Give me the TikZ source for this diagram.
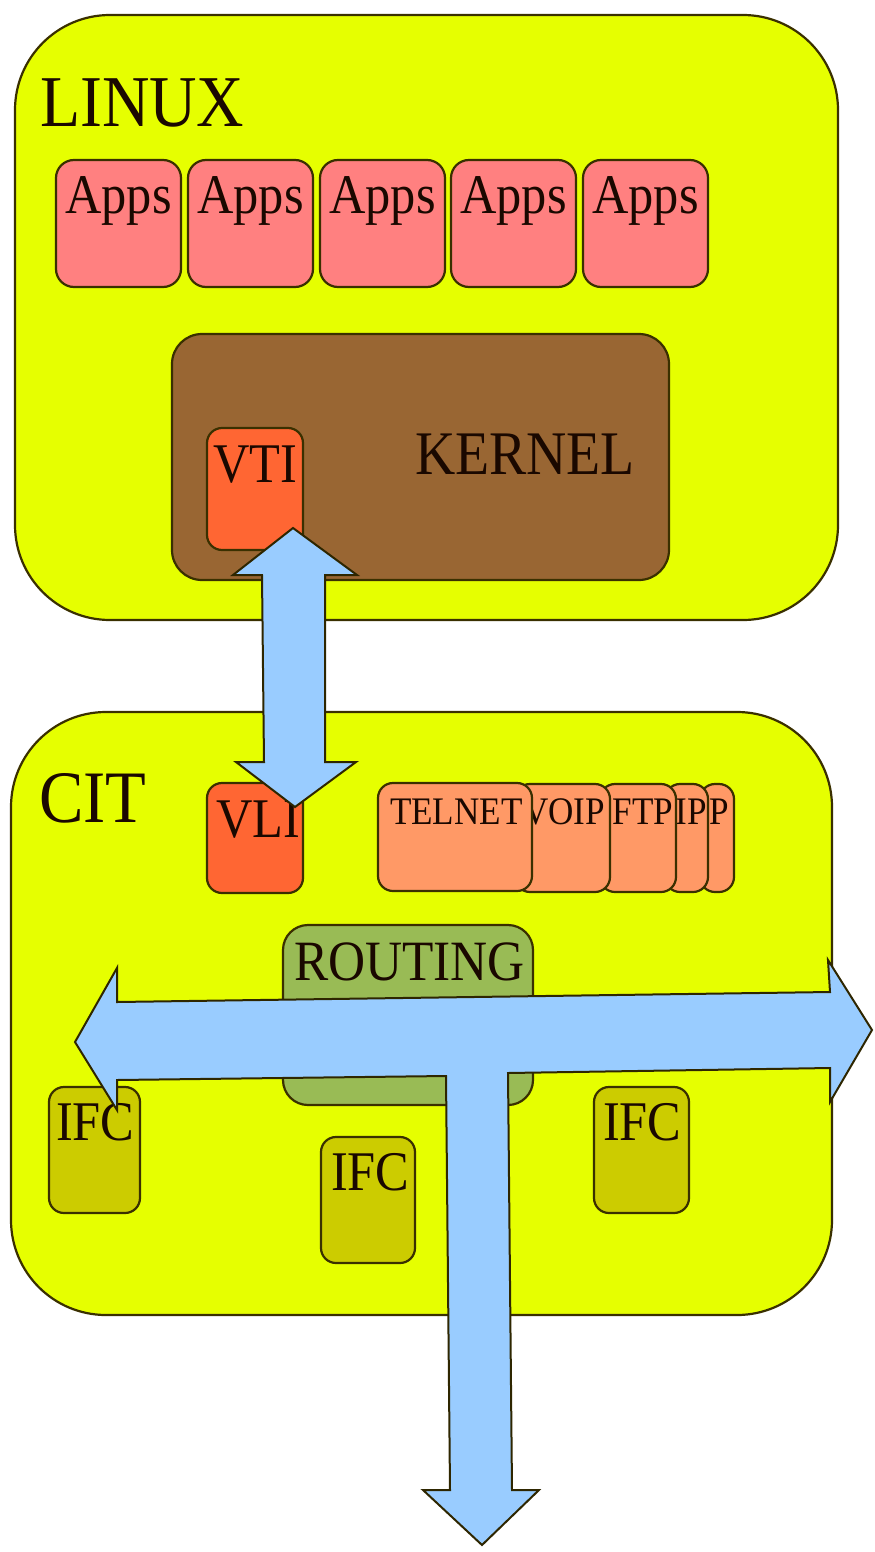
\documentclass[tikz,border=0pt]{standalone}
\usepackage{fontspec}
\setmainfont{Liberation Serif}[FakeStretch=0.9]
\usetikzlibrary{calc}
\definecolor{limey}{HTML}{E6FF00}
\definecolor{appcol}{HTML}{FF8080}
\definecolor{kerncol}{HTML}{996633}
\definecolor{vticol}{HTML}{FF6633}
\definecolor{protcol}{HTML}{FF9966}
\definecolor{routcol}{HTML}{99BB55}
\definecolor{ifccol}{HTML}{CCCC00}
\definecolor{arrcol}{HTML}{99CCFF}
\definecolor{edgecol}{HTML}{3A3000}
\definecolor{txtcol}{HTML}{1A0800}
\tikzset{
  shapebox/.style={draw=edgecol, line width=2.2pt, inner sep=0pt, outer sep=0pt, anchor=north west},
  bigbox/.style={shapebox, fill=limey, rounded corners=95pt},
  appbox/.style={shapebox, fill=appcol, rounded corners=18pt, minimum width=125pt, minimum height=127pt},
  vbox/.style={shapebox, fill=vticol, rounded corners=15pt, minimum width=96pt},
  protbox/.style={shapebox, fill=protcol, rounded corners=15pt, minimum height=108pt},
  ifcbox/.style={shapebox, fill=ifccol, rounded corners=15pt, minimum width=91pt, minimum height=126pt},
  lbl/.style={inner sep=0pt, outer sep=0pt, text=txtcol},
  blockarrow/.style={draw=edgecol!80!black, line width=2pt, fill=arrcol, line join=miter},
}
\begin{document}
\begin{tikzpicture}[x=1pt,y=-1pt]
\useasboundingbox (0,0) rectangle (875,1552);
% LINUX
\node[bigbox, minimum width=823pt, minimum height=605pt] (linux) at (15,15) {};
\node[lbl, anchor=base west, font=\fontsize{73}{78}\selectfont] (linuxlbl) at (40,127) {LINUX};
\foreach \i/\x in {1/56,2/188,3/320,4/451,5/583}{
  \node[appbox] (app\i) at (\x,160) {};
  \node[lbl, anchor=base, font=\fontsize{56}{60}\selectfont] (applbl\i) at ($(\x,213)+(62.5,0)$) {Apps};
}
\node[shapebox, fill=kerncol, rounded corners=30pt, minimum width=497pt, minimum height=246pt] (kernel) at (172,334) {};
\node[lbl, anchor=base west, font=\fontsize{62}{66}\selectfont] (kernlbl) at (415,474) {KERNEL};
\node[vbox, minimum height=122pt] (vti) at (207,428) {};
\node[lbl, anchor=base west, font=\fontsize{56}{60}\selectfont] (vtilbl) at (213,482) {VTI};
% CIT
\node[bigbox, minimum width=821pt, minimum height=603pt] (cit) at (11,712) {};
\node[lbl, anchor=base west, font=\fontsize{74}{78}\selectfont] (citlbl) at (39,822) {CIT};
\node[vbox, minimum height=110pt] (vli) at (207,783) {};
\node[lbl, anchor=base west, font=\fontsize{56}{60}\selectfont] (vlilbl) at (216,837) {VLI};
% protocol stack (drawn back to front)
\node[protbox, minimum width=34pt] (p5) at (700,784) {};
\node[lbl, anchor=base east, font=\fontsize{39}{42}\selectfont] (p5lbl) at (729,824) {P};
\node[protbox, minimum width=43pt] (p4) at (665,784) {};
\node[lbl, anchor=base east, font=\fontsize{39}{42}\selectfont] (p4lbl) at (707,824) {IP};
\node[protbox, minimum width=76pt] (p3) at (600,784) {};
\node[lbl, anchor=base east, font=\fontsize{39}{42}\selectfont] (p3lbl) at (673,824) {FTP};
\node[protbox, minimum width=95pt] (p2) at (515,784) {};
\node[lbl, anchor=base east, font=\fontsize{39}{42}\selectfont] (p2lbl) at (605,824) {VOIP};
\node[protbox, minimum width=154pt] (p1) at (378,783) {};
\node[lbl, anchor=base west, font=\fontsize{39}{42}\selectfont] (p1lbl) at (390,824) {TELNET};
% routing
\node[shapebox, fill=routcol, rounded corners=25pt, minimum width=250pt, minimum height=180pt] (routing) at (283,925) {};
\node[lbl, anchor=base west, font=\fontsize{57}{60}\selectfont] (routlbl) at (294,980) {ROUTING};
% IFCs
\node[ifcbox] (ifc1) at (49,1087) {};
\node[lbl, anchor=base west, font=\fontsize{56}{60}\selectfont] (ifc1lbl) at (56,1140) {IFC};
\node[ifcbox, minimum width=94pt] (ifc2) at (321,1137) {};
\node[lbl, anchor=base west, font=\fontsize{56}{60}\selectfont] (ifc2lbl) at (331,1190) {IFC};
\node[ifcbox, minimum width=95pt] (ifc3) at (594,1087) {};
\node[lbl, anchor=base west, font=\fontsize{56}{60}\selectfont] (ifc3lbl) at (603,1140) {IFC};
% vertical double arrow between VTI and VLI
\draw[blockarrow] (293,528) -- (357,575) -- (325,575) -- (325,762) -- (356,762) -- (295,807)
  -- (236,762) -- (264,762) -- (262,575) -- (233,575) -- cycle;
% T-shaped three-headed arrow
\draw[blockarrow] (117,968) -- (75,1042) -- (117,1110) -- (117,1080) -- (446,1076)
  -- (450,1490) -- (423,1490) -- (482,1545) -- (539,1490) -- (512,1490) -- (508,1073)
  -- (830,1068) -- (830,1102) -- (872,1030) -- (828,960) -- (830,992) -- (117,1002) -- cycle;
\end{tikzpicture}
\end{document}
